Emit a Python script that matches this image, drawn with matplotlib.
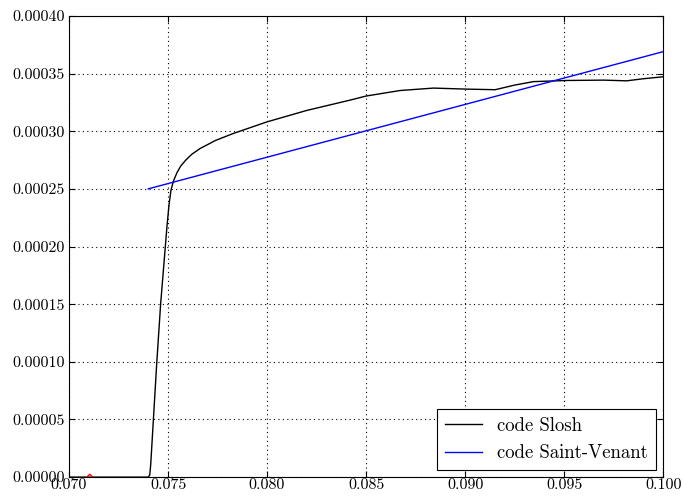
import numpy as np
import matplotlib
matplotlib.use("Agg")
import matplotlib.pyplot as plt

plt.rcParams['font.family'] = 'serif'
plt.rcParams['font.serif'] = ['cmr10', 'DejaVu Serif']
plt.rcParams['axes.formatter.use_mathtext'] = True

# code Slosh (courbe noire)
x_slosh = [0.0700, 0.0730, 0.0740, 0.07408, 0.07413, 0.07426, 0.07443, 0.07463,
           0.07485, 0.07495, 0.07505, 0.07515, 0.07528, 0.07545, 0.07565, 0.07590,
           0.07620, 0.07662, 0.07740, 0.07829, 0.07998, 0.0820, 0.0842, 0.0850,
           0.08672, 0.0884, 0.09008, 0.09152, 0.0925, 0.09345, 0.09513, 0.0970,
           0.09816, 0.0990, 0.1000]
y_slosh = [0.0, 0.0, 0.0, 0.000002, 0.0000119, 0.0000495, 0.0000987, 0.0001508,
           0.000197, 0.000218, 0.000236, 0.000249, 0.000257, 0.000264, 0.000270, 0.000275,
           0.000280, 0.000285, 0.000292, 0.000298, 0.000308, 0.000318, 0.000327, 0.0003305,
           0.0003353, 0.0003374, 0.0003365, 0.000336, 0.000340, 0.000343, 0.000344, 0.0003443,
           0.0003437, 0.0003455, 0.0003472]

# code Saint-Venant (droite bleue)
x_sv = [0.0740, 0.1000]
y_sv = [0.000250, 0.000369]

# petit pic rouge
x_rouge = [0.0709, 0.07105, 0.0712]
y_rouge = [0.0, 0.0000025, 0.0]

fig = plt.figure(figsize=(6.83, 4.97), dpi=100)
ax = fig.add_axes([0.101, 0.040, 0.870, 0.928])

ax.plot(x_slosh, y_slosh, color="black", lw=1.0, label="code Slosh")
ax.plot(x_sv, y_sv, color="blue", lw=1.0, label="code Saint-Venant")
ax.plot(x_rouge, y_rouge, color="red", lw=1.0)

xt = np.arange(0.070, 0.1001, 0.005)
yt = np.arange(0.0, 0.00041, 0.00005)
ax.set_xlim(0.070, 0.100)
ax.set_ylim(0.0, 0.0004)
ax.set_xticks(xt)
ax.set_yticks(yt)
ax.set_xticklabels(["%.3f" % v for v in xt])
ax.set_yticklabels(["%.5f" % v for v in yt])
ax.tick_params(direction="in", top=True, right=True, labelsize=11.5, length=4)
ax.tick_params(axis="x", pad=1)
ax.tick_params(axis="y", pad=3)
ax.grid(True, linestyle=(0, (1, 3)), color="black", linewidth=0.8)

leg = ax.legend(loc="lower right", fancybox=False, framealpha=1, edgecolor="black",
                fontsize=13.5, borderaxespad=0.4)
leg.get_frame().set_linewidth(0.8)

fig.savefig("out.png", dpi=100)
